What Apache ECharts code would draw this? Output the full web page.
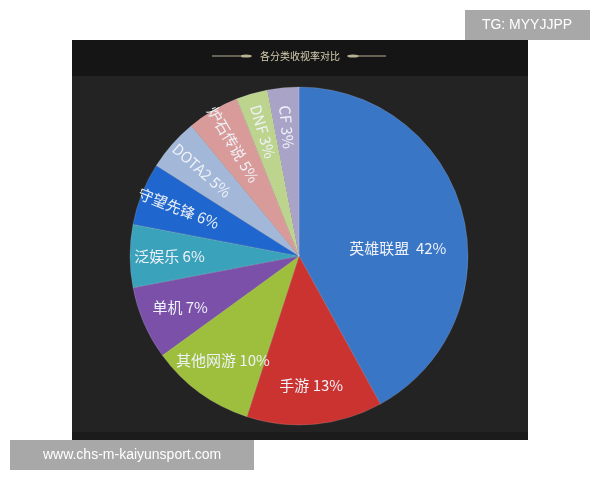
<!DOCTYPE html>
<html>
<head>
<meta charset="utf-8">
<title>各分类收视率对比</title>
<script src="https://cdn.jsdelivr.net/npm/echarts@6/dist/echarts.min.js"></script>
<style>
    html,body{margin:0;padding:0;background:#ffffff;}
    #pieChart{width:600px;height:480px;}
</style>
</head>
<body>
<div id="pieChart"></div>
<script>
// 分类名称
var categories = ['英雄联盟','手游','其他网游','单机','泛娱乐','守望先锋','DOTA2','炉石传说','DNF','CF'];
// 收视率 %
var rates = [42,13,10,7,6,6,5,5,3,3];
// 扇区颜色
var colors = ['#3a76c6','#cb3331','#9dbf3d','#7b50a9','#3ba2bc','#1f66cf','#a3b7d8','#d99b99','#bdd48f','#aaa3c8'];

var shareChart = {
    init: function() {
        shareChart.funcs.renderPie();
    }
    ,funcs: {
        /** 背景和水印 */
        buildGraphics : function() {
            var gold = '#b9b294';
            return [
                {type:'rect',shape:{x:72,y:40,width:456,height:400},style:{fill:'#232323'},z:-10},
                {type:'rect',shape:{x:72,y:40,width:456,height:36},style:{fill:'#151515'},z:-9},
                {type:'rect',shape:{x:72,y:432,width:456,height:8},style:{fill:'#1b1b1b'},z:-9},
                // 标题装饰
                {type:'line',shape:{x1:212,y1:56,x2:240,y2:56},style:{stroke:gold,lineWidth:1}},
                {type:'ellipse',shape:{cx:246,cy:56,rx:6,ry:1.6},style:{fill:gold}},
                {type:'line',shape:{x1:358,y1:56,x2:386,y2:56},style:{stroke:gold,lineWidth:1}},
                {type:'ellipse',shape:{cx:353,cy:56,rx:6,ry:1.6},style:{fill:gold}},
                {type:'text',x:300,y:56,style:{text:'各分类收视率对比',fill:'#d4cdb0',font:'10px "Noto Sans CJK SC"',align:'center',verticalAlign:'middle'}},
                // 水印
                {type:'rect',shape:{x:465,y:10,width:125,height:30},style:{fill:'#a8a8a8'}},
                {type:'text',x:527,y:25,style:{text:'TG: MYYJJPP',fill:'#ffffff',font:'14px "Liberation Sans"',align:'center',verticalAlign:'middle'}},
                {type:'rect',shape:{x:10,y:440,width:244,height:30},style:{fill:'#a8a8a8'}},
                {type:'text',x:132,y:455,style:{text:'www.chs-m-kaiyunsport.com',fill:'#ffffff',font:'14px "Liberation Sans"',align:'center',verticalAlign:'middle'}}
            ];
        }
        /** 绘制饼图 */
        ,renderPie : function() {
            var font = '"Noto Sans CJK SC", sans-serif';
            var mainData = [];
            var labelData = [];
            for (var i = 0; i < categories.length; i++) {
                mainData.push({
                    name: categories[i],
                    value: rates[i],
                    itemStyle: {color: colors[i]},
                    label: {show: i === 0, offset: [14, 14]}
                });
                labelData.push({
                    name: categories[i],
                    value: rates[i],
                    label: {show: i > 0, rotate: i >= 5 ? 'radial' : 0}
                });
            }
            var myChart = echarts.init(document.getElementById('pieChart'));
            var option = {
                backgroundColor: '#ffffff',
                animation: false,
                graphic: shareChart.funcs.buildGraphics(),
                series: [{
                    type: 'pie',
                    center: [299, 256],
                    radius: [0, 169],
                    startAngle: 90,
                    itemStyle: {borderColor: 'rgba(255,255,255,0.25)', borderWidth: 0.6},
                    label: {
                        position: 'inside',
                        formatter: '{b}  {c}%',
                        color: '#eef2f8',
                        fontSize: 15,
                        fontFamily: font
                    },
                    labelLine: {show: false},
                    data: mainData
                },{
                    type: 'pie',
                    silent: true,
                    center: [299, 256],
                    radius: [84, 169],
                    startAngle: 90,
                    itemStyle: {color: 'rgba(0,0,0,0)'},
                    label: {
                        position: 'inside',
                        formatter: '{b} {c}%',
                        color: '#eef2f8',
                        fontSize: 15,
                        fontFamily: font
                    },
                    labelLine: {show: false},
                    data: labelData
                }]
            };
            myChart.setOption(option);
        }
    }
};
shareChart.init();
</script>
</body>
</html>
